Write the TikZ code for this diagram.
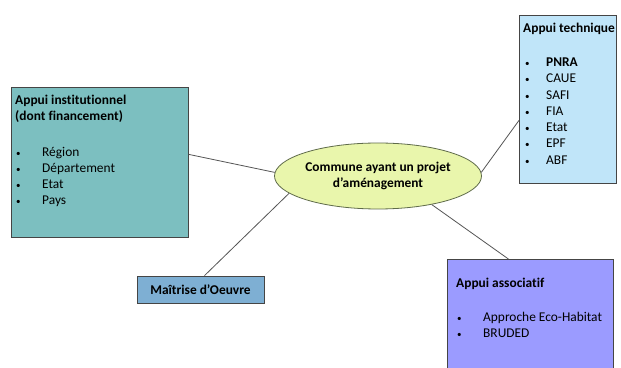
\documentclass[tikz,border=0pt]{standalone}
\usepackage{fontspec}
\setmainfont{Carlito}[Ligatures=NoCommon]
\usetikzlibrary{shapes.geometric}
\definecolor{instfill}{HTML}{7CBFC0}
\definecolor{techfill}{HTML}{C0E5F9}
\definecolor{ellfill}{HTML}{E9F6AC}
\definecolor{mofill}{HTML}{7EAFD3}
\definecolor{assocfill}{HTML}{9B9BFF}
\definecolor{boxline}{HTML}{454545}
\definecolor{ellline}{HTML}{5F6B4A}
\definecolor{conline}{HTML}{555555}
\newcommand{\bulA}{\makebox[27pt][l]{\hspace{1pt}\small •}}
\newcommand{\bulB}{\makebox[23pt][l]{\hspace{2pt}\small •}}
\tikzset{
  box/.style={draw=boxline, line width=0.8pt, rectangle, inner sep=0pt, anchor=north west},
  txt/.style={anchor=base west, inner sep=0pt, font=\fontsize{13.4}{16.3}\selectfont},
  con/.style={draw=conline, line width=0.8pt},
}
\begin{document}
\begin{tikzpicture}[x=1pt,y=1pt]
\clip (0,0) rectangle (621,367);
\fill[white] (0,0) rectangle (621,367);
% boxes
\node[box, fill=instfill, minimum width=177pt, minimum height=150pt] (inst) at (11,280) {};
\node[box, fill=techfill, minimum width=97pt, minimum height=168pt] (tech) at (519,352) {};
\node[box, fill=assocfill, minimum width=166pt, minimum height=115pt] (assoc) at (447,108) {};
\node[draw=boxline, line width=0.8pt, fill=mofill, rectangle, inner sep=0pt,
      minimum width=127pt, minimum height=27pt, font=\fontsize{13.4}{16.3}\selectfont\bfseries]
      (mo) at (200.5,77.5) {Maîtrise d’Oeuvre};
\node[draw=ellline, line width=0.8pt, fill=ellfill, ellipse, inner sep=0pt,
      minimum width=207pt, minimum height=66pt, align=center,
      font=\fontsize{13.4}{16.3}\selectfont\bfseries]
      (ell) at (378,191) {Commune ayant un projet\\d’aménagement};
% texts
\node[txt] (instt) at (15,262.5) {\begin{tabular}[t]{@{}l@{}}\textbf{Appui institutionnel}\\
  \textbf{(dont financement)}\\[19pt]
  \bulA Région\\ \bulA Département\\ \bulA Etat\\ \bulA Pays\end{tabular}};
\node[txt] (techt) at (523,334.5) {\begin{tabular}[t]{@{}l@{}}\textbf{Appui technique}\\[17.7pt]
  \bulB\textbf{PNRA}\\ \bulB CAUE\\ \bulB SAFI\\ \bulB FIA\\ \bulB Etat\\ \bulB EPF\\ \bulB ABF\end{tabular}};
\node[txt] (assoct) at (456,79.5) {\begin{tabular}[t]{@{}l@{}}\textbf{Appui associatif}\\[17.7pt]
  \bulA Approche Eco-Habitat\\ \bulA BRUDED\end{tabular}};
% connectors
\draw[con] ([yshift=8pt]inst.east) -- (ell.178);
\draw[con] (ell.191) -- ([xshift=4pt]mo.north);
\draw[con] (ell.2) -- ([yshift=-21pt]tech.west);
\draw[con] (ell.-28) -- ([xshift=-22pt]assoc.north);
\end{tikzpicture}
\end{document}
